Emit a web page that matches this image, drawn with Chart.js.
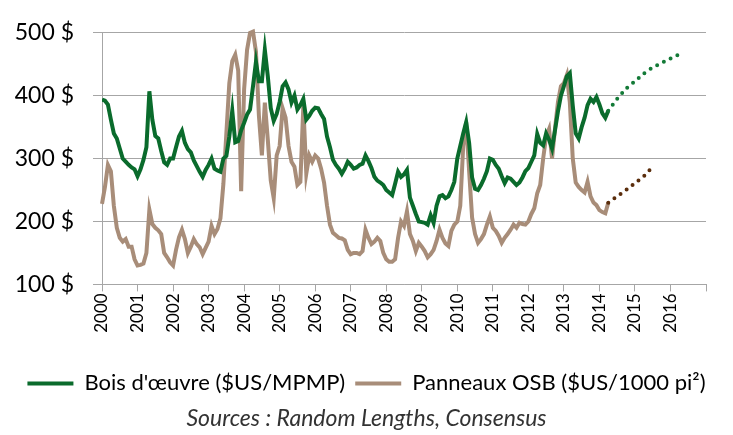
<!DOCTYPE html>
<html>
<head>
<meta charset="utf-8">
<script src="https://cdn.jsdelivr.net/npm/chart.js@4"></script>
<style>
  html, body { margin: 0; padding: 0; background: #fff; }
</style>
</head>
<body>
<canvas id="chart1" width="733" height="435"></canvas>
<script>
// prix mensuels, janvier 2000 -> avril 2014
const startYear = 2000;
const years = [2000, 2001, 2002, 2003, 2004, 2005, 2006, 2007, 2008, 2009, 2010, 2011, 2012, 2013, 2014, 2015, 2016];

const lumber = [
    394, 392, 386, 362, 340, 332, 316, 300, 295, 290, 286, 283,
    272, 283, 298, 318, 407, 362, 336, 332, 312, 294, 290, 300,
    300, 318, 335, 344, 325, 315, 310, 297, 288, 279, 271, 282,
    290, 300, 284, 281, 279, 300, 304, 335, 376, 326, 328, 345,
    357, 370, 378, 415, 454, 423, 423, 473, 431, 380, 360, 371,
    390, 415, 421, 410, 389, 400, 378, 385, 395, 362, 368, 376,
    381, 380, 371, 363, 335, 318, 298, 290, 284, 276, 284, 295,
    290, 284, 286, 290, 292, 305, 296, 285, 271, 265, 262, 258,
    250, 246, 242, 260, 279, 271, 275, 282, 238, 225, 212, 200,
    199, 198, 195, 210, 198, 225, 240, 242, 237, 240, 250, 263,
    300, 320, 340, 358, 325, 270, 252, 250, 258, 268, 280, 300,
    298, 290, 284, 272, 261, 270, 268, 263, 258, 262, 270, 280,
    285, 295, 305, 339, 325, 321, 340, 330, 316, 345, 375, 400,
    415, 431, 436, 384, 340, 332, 350, 365, 385, 395, 390, 398,
    386, 372, 365, 376
];

const osb = [
    228, 255, 290, 280, 225, 190, 174, 168, 172, 160, 160, 140,
    130, 131, 133, 150, 219, 196, 190, 186, 180, 150, 143, 135,
    130, 155, 175, 187, 172, 150, 160, 172, 164, 159, 148, 158,
    168, 193, 180, 188, 205, 260, 340, 420, 455, 465, 440, 248,
    410, 473, 500, 502, 470, 368, 305, 389, 330, 265, 237, 305,
    320, 380, 365, 320, 295, 287, 258, 263, 384, 276, 305, 295,
    305, 300, 284, 262, 225, 195, 182, 178, 174, 173, 170, 155,
    148, 150, 150, 148, 153, 187, 174, 164, 168, 174, 169, 150,
    140, 136, 136, 140, 174, 200, 193, 216, 180, 169, 153, 166,
    160, 153, 143, 148, 155, 169, 187, 174, 165, 161, 185, 195,
    200, 225, 320, 358, 280, 206, 180, 166, 172, 180, 195, 208,
    190, 185, 177, 166, 174, 180, 187, 195, 190, 198, 196, 195,
    200, 212, 221, 245, 258, 300, 335, 347, 300, 347, 390, 415,
    420, 433, 390, 300, 262, 255, 250, 246, 263, 240, 230, 226,
    218, 215, 213, 230
];

// prévisions (mois depuis janvier 2000)
const lumberFcMonths = [171, 174, 177, 180, 183, 186, 189, 192, 195];
const lumberFc = [376, 395, 411, 423, 435, 445, 452, 459, 466];
const osbFcMonths = [171, 174, 177, 180, 183, 185];
const osbFc = [230, 240, 250, 261, 272, 282];

const yTicks = [100, 200, 300, 400, 500];

const monthly = vals => vals.map((v, i) => ({ x: startYear + i / 12, y: v }));
const byMonth = (months, vals) => months.map((m, i) => ({ x: startYear + m / 12, y: vals[i] }));

const font = 'Lato, "Open Sans", sans-serif';
const gridColor = '#a6a6a6';

let chart1 = document.getElementById('chart1');

new Chart(chart1, {
    type: 'line',
    data: {
        datasets: [
            {
                label: "Bois d'\u0153uvre ($US/MPMP)",
                data: monthly(lumber),
                borderColor: '#0a6b2c',
                backgroundColor: '#0a6b2c',
                borderWidth: 4,
                pointRadius: 0,
                tension: 0,
                order: 1
            },
            {
                label: 'Panneaux OSB ($US/1000 pi\u00b2)',
                data: monthly(osb),
                borderColor: '#a88d79',
                backgroundColor: '#a88d79',
                borderWidth: 4,
                pointRadius: 0,
                tension: 0,
                clip: false,
                order: 2
            },
            {
                label: 'lumberFc',
                data: byMonth(lumberFcMonths, lumberFc),
                borderColor: '#137a37',
                borderWidth: 4,
                borderDash: [0, 7.5],
                borderCapStyle: 'round',
                pointRadius: 0,
                tension: 0.2
            },
            {
                label: 'osbFc',
                data: byMonth(osbFcMonths, osbFc),
                borderColor: '#5a2d0c',
                borderWidth: 4,
                borderDash: [0, 7.5],
                borderCapStyle: 'round',
                pointRadius: 0,
                tension: 0
            }
        ]
    },
    options: {
        responsive: false,
        devicePixelRatio: 1,
        animation: false,
        layout: {
            padding: { top: 29, right: 0, left: 0, bottom: 0 }
        },
        plugins: {
            legend: {
                position: 'bottom',
                labels: {
                    boxWidth: 46,
                    boxHeight: 4,
                    padding: 10,
                    color: '#000',
                    font: { family: font, size: 22 },
                    filter: item => item.datasetIndex < 2,
                    generateLabels: chart => Chart.defaults.plugins.legend.labels.generateLabels(chart)
                        .map(l => Object.assign(l, { lineWidth: 0, fillStyle: l.strokeStyle }))
                }
            },
            title: {
                display: true,
                position: 'bottom',
                text: 'Sources : Random Lengths, Consensus',
                color: '#333',
                font: { family: font, size: 23, style: 'italic', weight: 'normal' },
                padding: { top: 0, bottom: 3 }
            },
            tooltip: { enabled: false }
        },
        scales: {
            x: {
                type: 'linear',
                min: years[0],
                max: years[years.length - 1] + 1,
                afterFit: s => { s.height = 78; },
                afterBuildTicks: s => { s.ticks = years.concat([years[years.length - 1] + 1]).map(v => ({ value: v })); },
                ticks: {
                    autoSkip: false,
                    minRotation: 90,
                    maxRotation: 90,
                    padding: 2,
                    color: '#000',
                    font: { family: font, size: 17 },
                    callback: v => years.includes(v) ? String(v) : ''
                },
                grid: {
                    drawOnChartArea: false,
                    drawTicks: true,
                    tickLength: 7,
                    color: gridColor
                },
                border: { color: gridColor }
            },
            y: {
                min: yTicks[0],
                max: yTicks[yTicks.length - 1],
                afterFit: s => { s.width = 102; },
                afterBuildTicks: s => { s.ticks = yTicks.map(v => ({ value: v })); },
                ticks: {
                    padding: 19,
                    color: '#000',
                    font: { family: font, size: 23 },
                    callback: v => v + ' $'
                },
                grid: {
                    color: gridColor,
                    tickLength: 9
                },
                border: { color: gridColor }
            },
            // marge droite vide, pour centrer légende et source sur toute la largeur
            yRight: {
                position: 'right',
                min: 0,
                max: 1,
                afterFit: s => { s.width = 27; },
                ticks: { display: false },
                grid: { display: false },
                border: { display: false }
            }
        }
    }
});
</script>
</body>
</html>
